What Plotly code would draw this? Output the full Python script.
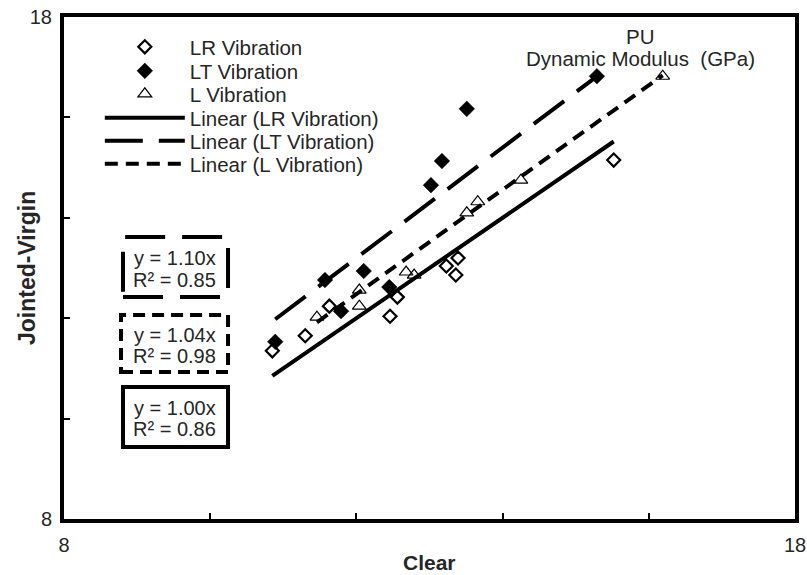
import plotly.graph_objects as go

# ---- data ----
lr_x = [10.85, 11.30, 11.63, 12.46, 12.56, 13.23, 13.39, 13.36, 15.52]
lr_y = [11.35, 11.65, 12.24, 12.04, 12.42, 13.04, 13.20, 12.86, 15.15]

lt_x = [10.89, 11.57, 11.79, 12.10, 12.45, 13.02, 13.17, 13.51, 15.29]
lt_y = [11.53, 12.76, 12.14, 12.94, 12.62, 14.65, 15.13, 16.17, 16.82]

l_x = [11.46, 12.04, 12.04, 12.68, 12.79, 13.51, 13.66, 14.25, 16.19]
l_y = [12.02, 12.56, 12.24, 12.92, 12.86, 14.10, 14.32, 14.75, 16.82]

series_names = ["LR Vibration", "LT Vibration", "L Vibration"]
slopes = [1.00, 1.10, 1.04]
r2 = [0.86, 0.85, 0.98]

axis_ticks = [8, 10, 12, 14, 16, 18]
axis_ticktext = ["8", "", "", "", "", "18"]
x_title = "Clear"
y_title = "Jointed-Virgin"

FONT = "Liberation Sans, Arial, sans-serif"
TXT = "#262626"

fig = go.Figure()

# scatter series
fig.add_trace(go.Scatter(x=lr_x, y=lr_y, mode="markers", name=series_names[0], legend="legend",
                         marker=dict(symbol="diamond-open", size=10, color="black",
                                     line=dict(width=2.2, color="black"))))
fig.add_trace(go.Scatter(x=lt_x, y=lt_y, mode="markers", name=series_names[1], legend="legend2",
                         marker=dict(symbol="diamond", size=12, color="black",
                                     line=dict(width=0.5, color="black"))))
fig.add_trace(go.Scatter(x=l_x, y=l_y, mode="markers", name=series_names[2], legend="legend3",
                         marker=dict(symbol="triangle-up-open", size=12, color="black",
                                     line=dict(width=1.2, color="black"))))

# trendlines (through origin), spanning each series' x range
dashes = ["solid", "38px,16px", "13px,8px"]
for i, (xs, name, m, d) in enumerate(zip([lr_x, lt_x, l_x], series_names, slopes, dashes)):
    x0, x1 = min(xs), max(xs)
    fig.add_trace(go.Scatter(x=[x0, x1], y=[m * x0, m * x1], mode="lines",
                             name=f"Linear ({name})", legend=f"legend{i + 4}",
                             line=dict(color="black", width=4, dash=d)))

# equation boxes
boxes = [
    # (series index, x0, x1, y0, y1, dash, line1 y, line2 y)
    (1, 0.0807, 0.2244, 0.4422, 0.5618, "40px,17px", 0.5199, 0.4761),
    (2, 0.0780, 0.2244, 0.2928, 0.4064, "12px,7px", 0.3665, 0.3247),
    (0, 0.0807, 0.2244, 0.1434, 0.2629, "solid", 0.2211, 0.1793),
]
for idx, bx0, bx1, by0, by1, d, ty1, ty2 in boxes:
    fig.add_shape(type="rect", xref="paper", yref="paper", x0=bx0, x1=bx1, y0=by0, y1=by1,
                  line=dict(color="black", width=4, dash=d), fillcolor="rgba(0,0,0,0)")
    for txt, ty in ((f"y = {slopes[idx]:.2f}x", ty1), (f"R² = {r2[idx]:.2f}", ty2)):
        fig.add_annotation(xref="paper", yref="paper", x=0.1518, y=ty,
                           xanchor="center", yanchor="middle", text=txt,
                           showarrow=False, font=dict(family=FONT, size=20, color=TXT))

for txt, ty in (("PU", 0.962), ("Dynamic Modulus  (GPa)", 0.918)):
    fig.add_annotation(xref="paper", yref="paper", x=0.788, y=ty,
                       xanchor="center", yanchor="middle", text=txt, showarrow=False,
                       font=dict(family=FONT, size=20.5, color=TXT))

# axis titles
fig.add_annotation(xref="paper", yref="paper", x=0.5, y=-0.0876, xanchor="center", yanchor="middle",
                   text=f"<b>{x_title}</b>", showarrow=False,
                   font=dict(family=FONT, size=21, color=TXT))
fig.add_annotation(xref="paper", yref="paper", x=-0.0506, y=0.5, xanchor="center", yanchor="middle",
                   text=f"<b>{y_title}</b>", showarrow=False, textangle=-90,
                   font=dict(family=FONT, size=23, color=TXT))

axis_common = dict(
    range=[8, 18], tickvals=axis_ticks, ticktext=axis_ticktext, automargin=False,
    showgrid=False, zeroline=False, showline=True, linecolor="black", linewidth=4,
    mirror=True, ticks="inside", ticklen=6, tickwidth=2, tickcolor="black",
    tickfont=dict(family=FONT, size=20, color=TXT),
)

legend_rows = [0.9402, 0.8924, 0.8466, 0.7988, 0.7530, 0.7072]
legend_layout = {}
for i, ly in enumerate(legend_rows):
    key = "legend" if i == 0 else f"legend{i + 1}"
    legend_layout[key] = dict(x=0.049, y=ly, xanchor="left", yanchor="middle",
                              bgcolor="rgba(0,0,0,0)", itemwidth=80,
                              font=dict(family=FONT, size=20.5, color=TXT))

fig.update_layout(
    width=807, height=575,
    margin=dict(l=64, r=12, t=17, b=56),
    paper_bgcolor="white", plot_bgcolor="white",
    font=dict(family=FONT, size=16, color=TXT),
    xaxis=dict(**axis_common, ticklabelstandoff=5),
    yaxis=dict(**axis_common, ticklabelstandoff=4),
    showlegend=True,
    **legend_layout,
)

fig.write_html("out.html", config={"displayModeBar": False},
               post_script="document.body.style.margin='0';")
